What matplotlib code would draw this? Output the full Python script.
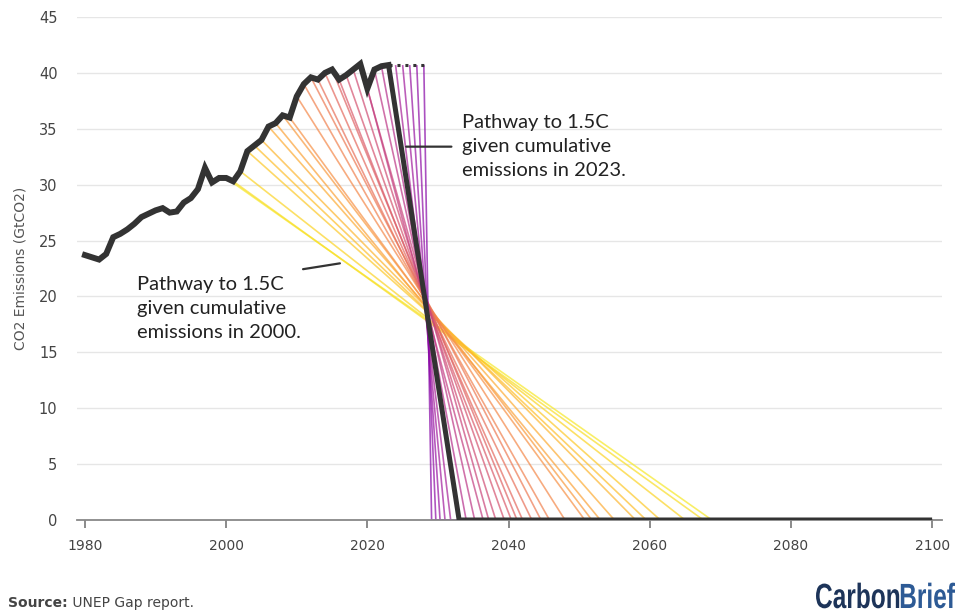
import matplotlib.pyplot as plt
import numpy as np
from matplotlib.font_manager import FontProperties
from matplotlib.patches import PathPatch
from matplotlib.textpath import TextPath
from matplotlib.transforms import Affine2D, IdentityTransform

# historical CO2 emissions (GtCO2)
years = list(range(1980, 2024))
emissions = [23.7, 23.5, 23.3, 23.8, 25.3, 25.6, 26.0, 26.5, 27.1, 27.4,
             27.7, 27.9, 27.5, 27.6, 28.4, 28.8, 29.6, 31.5, 30.2, 30.6,
             30.6, 30.3, 31.2, 33.0, 33.5, 34.0, 35.2, 35.5, 36.2, 36.0,
             37.9, 39.0, 39.6, 39.4, 40.0, 40.3, 39.4, 39.8, 40.3, 40.8,
             38.6, 40.3, 40.6, 40.7]

# emissions held flat after 2023 (dotted)
flat_years = [2023, 2024, 2025, 2026, 2027, 2028]
flat_value = 40.7

# 1.5C pathways: start year and the year each reaches zero
start_years = list(range(2000, 2029))
net_zero_years = [2068.8, 2067.6, 2065.0, 2061.5, 2059.5, 2058.0, 2055.0, 2053.0,
                  2051.8, 2050.8, 2048.0, 2045.8, 2044.6, 2043.3, 2042.0, 2041.2,
                  2040.4, 2039.4, 2038.2, 2037.2, 2036.4, 2035.2, 2034.0, 2033.0,
                  2031.8, 2031.0, 2030.3, 2029.7, 2029.1]
end_year = 2100
highlight_year = 2023

x_ticks = [1980, 2000, 2020, 2040, 2060, 2080, 2100]
y_ticks = [0, 5, 10, 15, 20, 25, 30, 35, 40, 45]

dark = "#333333"

fig = plt.figure(figsize=(9.57, 6.15), dpi=100)
ax = fig.add_axes([77 / 957, 1 - 520 / 615, 865 / 957, 503 / 615])

emis_by_year = dict(zip(years, emissions))
colors = plt.get_cmap("plasma")(np.linspace(0.96, 0.27, len(start_years)))

for i, (y0, nz) in enumerate(zip(start_years, net_zero_years)):
    e0 = emis_by_year.get(y0, flat_value)
    if y0 == highlight_year:
        continue
    ax.plot([y0, nz, end_year], [e0, 0, 0], color=colors[i], lw=1.2, alpha=0.7,
            solid_capstyle="butt", zorder=2)

ax.plot(flat_years, [flat_value] * len(flat_years), color=dark, lw=2.2,
        linestyle=(0, (1, 1.6)), zorder=3)
ax.plot(years, emissions, color=dark, lw=4.3, solid_joinstyle="miter", zorder=4)

hi = start_years.index(highlight_year)
ax.plot([highlight_year, net_zero_years[hi], end_year],
        [emis_by_year[highlight_year], 0, 0], color=dark, lw=3.6,
        solid_capstyle="butt", zorder=4)

ax.set_xlim(1978.87, 2101.4)
ax.set_ylim(0, 45)
ax.set_xticks(x_ticks)
ax.set_yticks(y_ticks)
ax.grid(axis="y", color="#e6e6e6", lw=1)
ax.set_axisbelow(True)
for s in ["top", "right", "left"]:
    ax.spines[s].set_visible(False)
ax.spines["bottom"].set_color("#888888")
ax.spines["bottom"].set_linewidth(1.3)
ax.tick_params(axis="x", length=6, width=1.2, color="#777777", labelsize=10,
               labelcolor="#444444", pad=8)
ax.tick_params(axis="y", length=0, labelsize=10.5, labelcolor="#444444", pad=14)
ax.set_ylabel("CO2 Emissions (GtCO2)", fontsize=10, color="#555555", labelpad=8)

label_font = dict(family="Lato", fontsize=14.5, color="#222222", linespacing=1.5)
ax.text(1987.4, 21.8, "Pathway to 1.5C\ngiven cumulative\nemissions in 2000.",
        va="top", ha="left", **label_font)
ax.annotate("", xy=(2016.5, 23.0), xytext=(2010.5, 22.4),
            arrowprops=dict(arrowstyle="-", color=dark, lw=1.6))
ax.text(2033.4, 36.3, "Pathway to 1.5C\ngiven cumulative\nemissions in 2023.",
        va="top", ha="left", **label_font)
ax.annotate("", xy=(2025.1, 33.4), xytext=(2032.3, 33.4),
            arrowprops=dict(arrowstyle="-", color=dark, lw=1.6))

# footer
fig.canvas.draw()
r = fig.canvas.get_renderer()
src_y = 1 - 603 / 615
t1 = fig.text(8 / 957, src_y, "Source:", fontsize=10, fontweight="bold",
              color="#444444", va="center")
bb = t1.get_window_extent(r)
fig.text(bb.x1 / fig.bbox.width, src_y, " UNEP Gap report.", fontsize=10,
         color="#444444", va="center")

# condensed logo: squeeze a bold text path horizontally (pixel coords)
fp = FontProperties(family="Liberation Sans", weight="bold")
p_carbon = TextPath((0, 0), "Carbon", size=35, prop=fp)
p_brief = TextPath((0, 0), "Brief", size=35, prop=fp)
w_c = p_carbon.get_extents().x1
w_b = p_brief.get_extents().x1
sx = 140 / (w_c + w_b)
x_start = 955 - 140
base = 7
for path, dx, col in [(p_carbon, 0, "#1d3459"), (p_brief, w_c, "#2d5a95")]:
    tr = Affine2D().translate(dx, 0).scale(sx, 1).translate(x_start, base)
    fig.add_artist(PathPatch(tr.transform_path(path), facecolor=col, lw=0,
                             transform=IdentityTransform()))

fig.savefig("out.png", dpi=100)
